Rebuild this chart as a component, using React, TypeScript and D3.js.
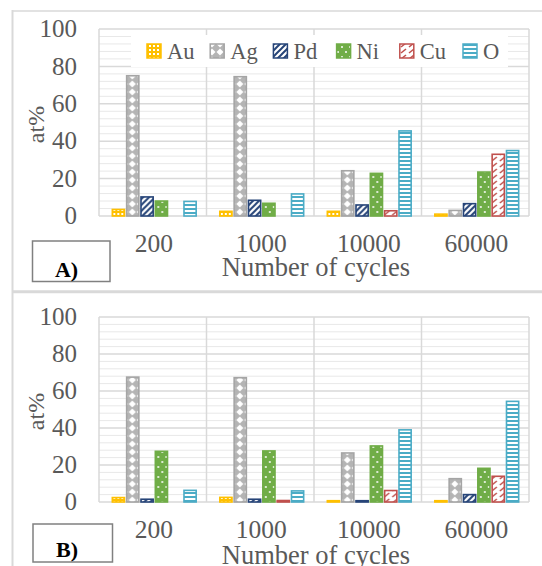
import React from "react";
import * as d3 from "d3";

const categories = ["200", "1000", "10000", "60000"];
const elements = ["Au", "Ag", "Pd", "Ni", "Cu", "O"];
const yTicks = [0, 20, 40, 60, 80, 100];

// panel A
const auA = [3.5, 2.5, 2.5, 1];
const agA = [75, 74.5, 24.2, 3];
const pdA = [10.2, 8.4, 5.9, 6.6];
const niA = [8, 6.8, 22.8, 23.5];
const cuA = [0, 0, 2.8, 33];
const oA = [7.8, 11.8, 45.5, 35];

// panel B
const auB = [2.4, 2.5, 0.7, 0.7];
const agB = [67.5, 67.2, 26.5, 12.6];
const pdB = [1.5, 1.5, 0.7, 4];
const niB = [27.4, 27.6, 30.3, 18.2];
const cuB = [0, 0.8, 6.2, 13.9];
const oB = [6.3, 6, 39, 54.4];

const colors: Record<string, string> = {
  Au: "#FFC000",
  Ag: "#A5A5A5",
  Pd: "#264478",
  Ni: "#70AD47",
  Cu: "#C0504D",
  O: "#4BACC6",
};

const FONT = "'Liberation Serif', 'Times New Roman', serif";
const GRID = "#d9d9d9";
const MINOR = "#e8e8e8";
const TEXT = "#595959";

function Patterns() {
  return (
    <defs>
      <pattern id="p-Au" width="4" height="4" patternUnits="userSpaceOnUse">
        <rect width="4" height="4" fill="#FFC000" />
        <rect x="1" y="1" width="2" height="2" fill="#fff" />
      </pattern>
      <pattern id="p-Ag" width="8" height="8" patternUnits="userSpaceOnUse">
        <rect width="8" height="8" fill="#b4b4b4" />
        <path d="M4 0.5 L7.5 4 L4 7.5 L0.5 4 Z" fill="#fff" />
      </pattern>
      <pattern id="p-Pd" width="6" height="6" patternUnits="userSpaceOnUse">
        <rect width="6" height="6" fill="#fff" />
        <path d="M-1 7 L7 -1 M-1 1 L1 -1 M5 7 L7 5" stroke="#264478" strokeWidth="2" />
      </pattern>
      <pattern id="p-Ni" width="8" height="10" patternUnits="userSpaceOnUse">
        <rect width="8" height="10" fill="#70AD47" />
        <circle cx="2" cy="2" r="1" fill="#fff" />
        <circle cx="6" cy="7" r="1" fill="#fff" />
      </pattern>
      <pattern id="p-Cu" width="8" height="6" patternUnits="userSpaceOnUse">
        <rect width="8" height="6" fill="#fff" />
        <path d="M1 5 L6 1" stroke="#C0504D" strokeWidth="1.6" />
      </pattern>
      <pattern id="p-O" width="4" height="4" patternUnits="userSpaceOnUse">
        <rect width="4" height="4" fill="#fff" />
        <rect y="0" width="4" height="2" fill="#4BACC6" />
      </pattern>
    </defs>
  );
}

interface PanelProps {
  series: number[][];
  top: number;
  bottom: number;
  label: string;
  legend: boolean;
  catY: number;
  titleY: number;
  box: { x: number; y: number; w: number; h: number; ty: number };
}

function Panel({ series, top, bottom, label, legend, catY, titleY, box }: PanelProps) {
  const left = 99;
  const right = 529;
  const x0 = d3
    .scaleBand<string>()
    .domain(categories)
    .range([left + 1.5, right + 1.5])
    .paddingInner(0.22)
    .paddingOuter(0.11);
  const x1 = d3
    .scaleBand<string>()
    .domain(elements)
    .range([0, x0.bandwidth()])
    .paddingInner(0.15);
  const y = d3.scaleLinear().domain([0, 100]).range([bottom, top]);
  const minor = d3.range(0, 101, 4).filter((v) => v % 20 !== 0);
  const step = (right - left) / categories.length;
  const legendX = d3.scalePoint<string>().domain(elements).range([147, 463]);
  const legendY = top + 22;

  return (
    <g>
      {minor.map((v) => (
        <line key={"m" + v} x1={left} x2={right} y1={y(v)} y2={y(v)} stroke={MINOR} strokeWidth={1} />
      ))}
      {yTicks.map((v) => (
        <line key={"g" + v} x1={left} x2={right} y1={y(v)} y2={y(v)} stroke={GRID} strokeWidth={1.5} />
      ))}
      {d3.range(categories.length + 1).map((i) => (
        <line
          key={"v" + i}
          x1={left + i * step}
          x2={left + i * step}
          y1={top}
          y2={bottom}
          stroke={GRID}
          strokeWidth={1.5}
        />
      ))}
      {legend && (
        <g>
          <rect x={131} y={top + 6} width={377} height={32} fill="#fff" />
          {elements.map((e) => (
            <g key={e}>
              <rect
                x={legendX(e)!}
                y={legendY - 7}
                width={14}
                height={14}
                fill={`url(#p-${e})`}
                stroke={colors[e]}
                strokeWidth={1.5}
              />
              <text
                x={legendX(e)! + 20}
                y={legendY + 8}
                fontFamily={FONT}
                fontSize={22.5}
                fill={TEXT}
              >
                {e}
              </text>
            </g>
          ))}
        </g>
      )}
      {categories.map((c, ci) => (
        <g key={c} transform={`translate(${x0(c)},0)`}>
          {elements.map((e, ei) => {
            const v = series[ei][ci];
            if (v <= 0) return null;
            return (
              <rect
                key={e}
                x={x1(e)!}
                y={y(v)}
                width={x1.bandwidth()}
                height={y(0) - y(v)}
                fill={`url(#p-${e})`}
                stroke={colors[e]}
                strokeWidth={1.6}
              />
            );
          })}
        </g>
      ))}
      {yTicks.map((v) => (
        <text
          key={"t" + v}
          x={77}
          y={y(v)}
          dy="0.33em"
          textAnchor="end"
          fontFamily={FONT}
          fontSize={25}
          fill={TEXT}
        >
          {v}
        </text>
      ))}
      <text
        transform={`translate(44,${(top + bottom) / 2 + 2}) rotate(-90)`}
        textAnchor="middle"
        fontFamily={FONT}
        fontSize={24}
        fill={TEXT}
      >
        at%
      </text>
      {categories.map((c) => (
        <text
          key={"c" + c}
          x={(left + right) / 2 + (categories.indexOf(c) - 1.5) * step + 1}
          y={catY}
          textAnchor="middle"
          fontFamily={FONT}
          fontSize={25.5}
          fill={TEXT}
        >
          {c}
        </text>
      ))}
      <text
        x={(left + right) / 2 + 2}
        y={titleY}
        textAnchor="middle"
        fontFamily={FONT}
        fontSize={26.5}
        fill={TEXT}
      >
        Number of cycles
      </text>
      <rect x={box.x} y={box.y} width={box.w} height={box.h} fill="#fff" stroke="#808080" strokeWidth={1.5} />
      <text
        x={box.x + 34}
        y={box.ty}
        textAnchor="middle"
        fontFamily={FONT}
        fontSize={22}
        fontWeight="bold"
        fill="#000"
      >
        {label}
      </text>
    </g>
  );
}

export default function App() {
  return (
    <svg
      width={542}
      height={566}
      style={{ position: "absolute", left: 0, top: 0, background: "#fff" }}
    >
      <Patterns />
      <rect width={542} height={566} fill="#fff" />
      <line x1={12} x2={542} y1={11} y2={11} stroke={GRID} strokeWidth={1.5} />
      <line x1={12.5} x2={12.5} y1={10} y2={566} stroke={GRID} strokeWidth={2} />
      <line x1={12} x2={542} y1={291.7} y2={291.7} stroke={GRID} strokeWidth={3} />
      <Panel
        series={[auA, agA, pdA, niA, cuA, oA]}
        top={29}
        bottom={216}
        label="A)"
        legend={true}
        catY={252}
        titleY={276}
        box={{ x: 32.5, y: 241, w: 77.5, h: 40.5, ty: 277 }}
      />
      <Panel
        series={[auB, agB, pdB, niB, cuB, oB]}
        top={317}
        bottom={502}
        label="B)"
        legend={false}
        catY={538}
        titleY={564}
        box={{ x: 33, y: 524, w: 79.5, h: 38, ty: 557 }}
      />
    </svg>
  );
}
